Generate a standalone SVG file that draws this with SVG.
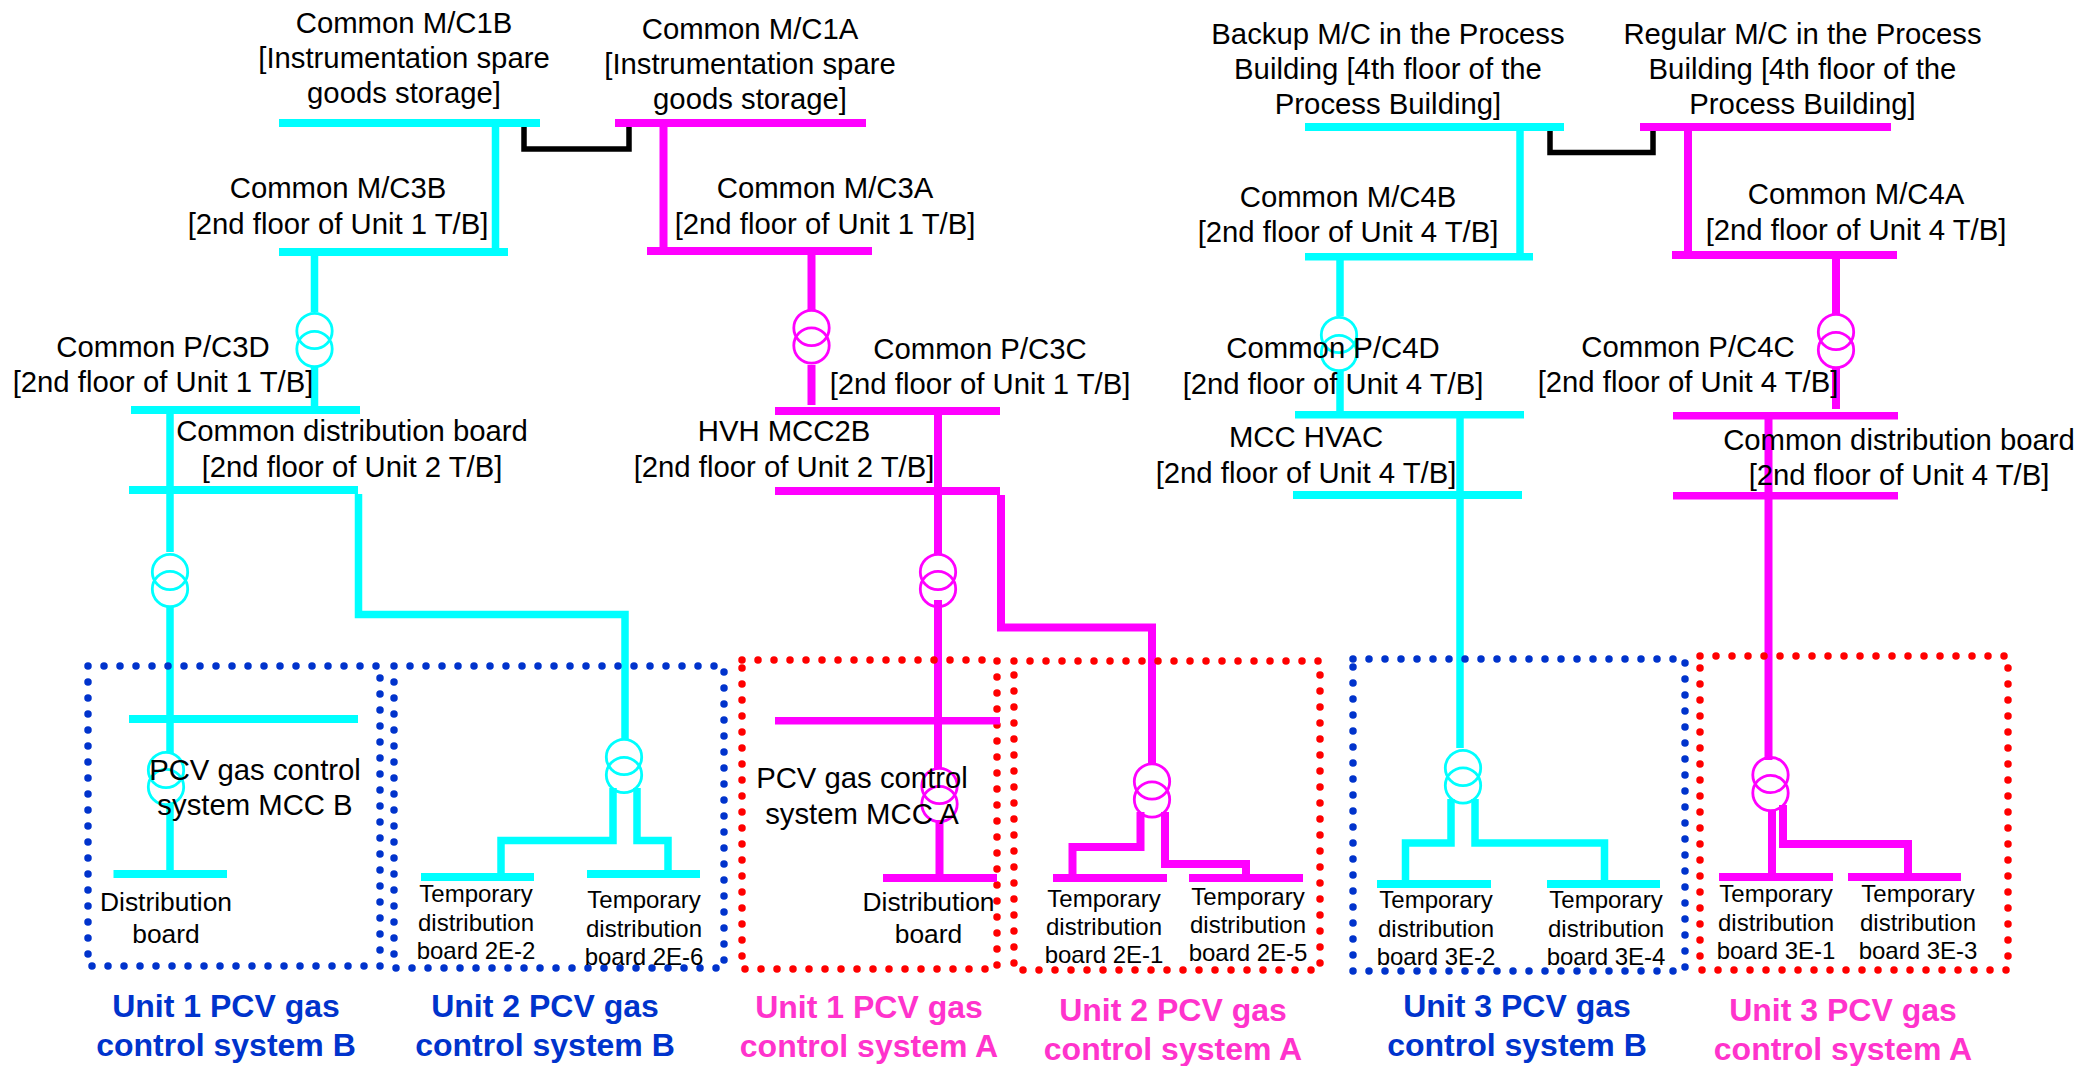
<svg xmlns="http://www.w3.org/2000/svg" width="2099" height="1066" viewBox="0 0 2099 1066">
<style>
text{font-family:"Liberation Sans",Arial,sans-serif;fill:#000;text-anchor:middle}
.l{font-size:29.300px}.m{font-size:26.400px}.s{font-size:24px}
.b{font-size:32px;font-weight:bold}.bb{fill:#0033cc}.bm{fill:#ff33cc}
.c{fill:#00ffff}.p{fill:#ff00ff}
.w{fill:none;stroke-width:7.5}.wc{stroke:#00ffff}.wp{stroke:#ff00ff}.wk{fill:none;stroke:#000;stroke-width:5.500}
.t{fill:none;stroke-width:2.800}
.box{fill:none;stroke-width:7.500;stroke-linecap:round;stroke-dasharray:0 16}
</style>
<rect width="2099" height="1066" fill="#fff"/>
<g id="connectors">
<path class="wk" d="M524 127V149H629V127"/>
<path class="wk" d="M1550 131V152.500H1653V131"/>
<g class="w wc">
<path d="M495.500 127V248"/>
<path d="M314.500 256V312M314.500 367V407"/>
<path d="M170 414V552M170 607V753M170 805V870"/>
<path d="M358.500 494V614.500H625V740"/>
<path d="M613 788V840.500H501V881"/>
<path d="M637 788V840.500H668V878"/>
<path d="M1520 131V253"/>
<path d="M1340 260V316M1340 371V411"/>
<path d="M1460 418V748"/>
<path d="M1451 799V843H1405.500V880"/>
<path d="M1475 799V843H1604.500V880"/>
</g>
<g class="w wp" style="stroke-width:8">
<path d="M663.500 127V248"/>
<path d="M811.500 255V311M811.500 365V405"/>
<path d="M938 415V555M938 600V768M939.500 820V874"/>
<path d="M1001 495V627.500H1152V764"/>
<path d="M1140.500 812V847H1072.500V874"/>
<path d="M1165 812V864H1246V874"/>
<path d="M1688 131V252"/>
<path d="M1836 259V314M1836 368V409"/>
<path d="M1768.500 419V760"/>
<path d="M1772 810V873"/>
<path d="M1783 805V844H1908V881"/>
</g>
</g>
<g id="group-boxes">
<rect id="box-u1b" class="box" x="88" y="666" width="292" height="300" stroke="#0033cc"/>
<rect id="box-u2b" class="box" x="394" y="666" width="330" height="302" stroke="#0033cc"/>
<rect id="box-u1a" class="box" x="742" y="660" width="255" height="309" stroke="#ff0000"/>
<rect id="box-u2a" class="box" x="1014" y="661" width="306" height="309" stroke="#ff0000"/>
<rect id="box-u3b" class="box" x="1353" y="659" width="332" height="312" stroke="#0033cc"/>
<rect id="box-u3a" class="box" x="1700" y="656" width="308" height="314" stroke="#ff0000"/>
</g>
<g id="transformers">
<g id="tr-c3d" class="t wc"><circle cx="314.500" cy="331" r="17.700"/><circle cx="314.500" cy="349" r="17.700"/></g>
<g id="tr-c3c" class="t wp"><circle cx="811.500" cy="328" r="17.700"/><circle cx="811.500" cy="345.500" r="17.700"/></g>
<g id="tr-c4d" class="t wc"><circle cx="1339" cy="335" r="17.700"/><circle cx="1339" cy="353" r="17.700"/></g>
<g id="tr-c4c" class="t wp"><circle cx="1836" cy="332" r="17.700"/><circle cx="1836" cy="350" r="17.700"/></g>
<g id="tr-u1b-a" class="t wc"><circle cx="170" cy="572" r="17.700"/><circle cx="170" cy="589" r="17.700"/></g>
<g id="tr-u1b-b" class="t wc"><circle cx="166" cy="770" r="17.700"/><circle cx="166" cy="787" r="17.700"/></g>
<g id="tr-u2b" class="t wc"><circle cx="624" cy="757" r="17.700"/><circle cx="624" cy="775" r="17.700"/></g>
<g id="tr-u1a-a" class="t wp"><circle cx="938" cy="572" r="17.700"/><circle cx="938" cy="589" r="17.700"/></g>
<g id="tr-u1a-b" class="t wp"><circle cx="939.500" cy="786" r="17.700"/><circle cx="939.500" cy="804" r="17.700"/></g>
<g id="tr-u2a" class="t wp"><circle cx="1152" cy="781.500" r="17.700"/><circle cx="1152" cy="799.500" r="17.700"/></g>
<g id="tr-u3b" class="t wc"><circle cx="1463" cy="768" r="17.700"/><circle cx="1463" cy="785.500" r="17.700"/></g>
<g id="tr-u3a" class="t wp"><circle cx="1770.500" cy="775" r="17.700"/><circle cx="1770.500" cy="793" r="17.700"/></g>
</g>
<g id="mc1b"><rect class="c" x="279" y="119" width="261" height="8"/><text class="l"><tspan x="404" y="33">Common M/C1B</tspan><tspan x="404" y="68">[Instrumentation spare</tspan><tspan x="404" y="103">goods storage]</tspan></text></g>
<g id="mc1a"><rect class="p" x="615" y="119" width="251" height="8"/><text class="l"><tspan x="750" y="38.500">Common M/C1A</tspan><tspan x="750" y="74">[Instrumentation spare</tspan><tspan x="750" y="109">goods storage]</tspan></text></g>
<g id="mc3b"><rect class="c" x="279" y="248" width="229" height="8"/><text class="l"><tspan x="338" y="198">Common M/C3B</tspan><tspan x="338" y="233.500">[2nd floor of Unit 1 T/B]</tspan></text></g>
<g id="mc3a"><rect class="p" x="647" y="247" width="225" height="8"/><text class="l"><tspan x="825" y="198">Common M/C3A</tspan><tspan x="825" y="233.500">[2nd floor of Unit 1 T/B]</tspan></text></g>
<g id="pc3d"><rect class="c" x="131" y="406" width="229" height="8"/><text class="l"><tspan x="163" y="357">Common P/C3D</tspan><tspan x="163" y="392">[2nd floor of Unit 1 T/B]</tspan></text></g>
<g id="pc3c"><rect class="p" x="775" y="407" width="225" height="8"/><text class="l"><tspan x="980" y="359">Common P/C3C</tspan><tspan x="980" y="394">[2nd floor of Unit 1 T/B]</tspan></text></g>
<g id="cdb-u2"><rect class="c" x="129" y="486" width="229" height="8"/><text class="l"><tspan x="352" y="441">Common distribution board</tspan><tspan x="352" y="477">[2nd floor of Unit 2 T/B]</tspan></text></g>
<g id="hvh-mcc2b"><rect class="p" x="775" y="487" width="225" height="8"/><text class="l"><tspan x="784" y="441">HVH MCC2B</tspan><tspan x="784" y="477">[2nd floor of Unit 2 T/B]</tspan></text></g>
<g id="backup-mc"><rect class="c" x="1305" y="123" width="259" height="8"/><text class="l"><tspan x="1388" y="44">Backup M/C in the Process</tspan><tspan x="1388" y="79">Building [4th floor of the</tspan><tspan x="1388" y="114">Process Building]</tspan></text></g>
<g id="regular-mc"><rect class="p" x="1640" y="123" width="251" height="8"/><text class="l"><tspan x="1802.500" y="44">Regular M/C in the Process</tspan><tspan x="1802.500" y="79">Building [4th floor of the</tspan><tspan x="1802.500" y="114">Process Building]</tspan></text></g>
<g id="mc4b"><rect class="c" x="1305" y="253" width="228" height="7.500"/><text class="l"><tspan x="1348" y="207">Common M/C4B</tspan><tspan x="1348" y="242">[2nd floor of Unit 4 T/B]</tspan></text></g>
<g id="mc4a"><rect class="p" x="1672" y="251" width="225" height="8"/><text class="l"><tspan x="1856" y="204">Common M/C4A</tspan><tspan x="1856" y="240">[2nd floor of Unit 4 T/B]</tspan></text></g>
<g id="pc4d"><rect class="c" x="1295" y="411" width="229" height="7.500"/><text class="l"><tspan x="1333" y="358">Common P/C4D</tspan><tspan x="1333" y="394">[2nd floor of Unit 4 T/B]</tspan></text></g>
<g id="pc4c"><rect class="p" x="1673" y="412" width="225" height="7.500"/><text class="l"><tspan x="1688" y="357">Common P/C4C</tspan><tspan x="1688" y="392">[2nd floor of Unit 4 T/B]</tspan></text></g>
<g id="mcc-hvac"><rect class="c" x="1293" y="491" width="229" height="8"/><text class="l"><tspan x="1306" y="447">MCC HVAC</tspan><tspan x="1306" y="483">[2nd floor of Unit 4 T/B]</tspan></text></g>
<g id="cdb-u4"><rect class="p" x="1673" y="492" width="225" height="7.500"/><text class="l"><tspan x="1899" y="450">Common distribution board</tspan><tspan x="1899" y="485">[2nd floor of Unit 4 T/B]</tspan></text></g>
<g id="pcv-mcc-b"><rect class="c" x="129" y="715" width="229" height="8"/><text class="l"><tspan x="255" y="780">PCV gas control</tspan><tspan x="255" y="815">system MCC B</tspan></text></g>
<g id="pcv-mcc-a"><rect class="p" x="775" y="717" width="225" height="7.500"/><text class="l"><tspan x="862" y="788">PCV gas control</tspan><tspan x="862" y="824">system MCC A</tspan></text></g>
<g id="db-b"><rect class="c" x="113.500" y="870" width="113.500" height="8"/><text class="m"><tspan x="166" y="911">Distribution</tspan><tspan x="166" y="943">board</tspan></text></g>
<g id="db-a"><rect class="p" x="883" y="874" width="114" height="8"/><text class="m"><tspan x="928.500" y="911">Distribution</tspan><tspan x="928.500" y="943">board</tspan></text></g>
<g id="t2e2"><rect class="c" x="421" y="873" width="113" height="8"/><text class="s"><tspan x="476" y="902">Temporary</tspan><tspan x="476" y="931">distribution</tspan><tspan x="476" y="959">board 2E-2</tspan></text></g>
<g id="t2e6"><rect class="c" x="587" y="870" width="113" height="8"/><text class="s"><tspan x="644" y="908">Temporary</tspan><tspan x="644" y="937">distribution</tspan><tspan x="644" y="965">board 2E-6</tspan></text></g>
<g id="t2e1"><rect class="p" x="1053" y="874" width="114" height="8"/><text class="s"><tspan x="1104" y="907">Temporary</tspan><tspan x="1104" y="935">distribution</tspan><tspan x="1104" y="963">board 2E-1</tspan></text></g>
<g id="t2e5"><rect class="p" x="1189" y="874" width="114" height="8"/><text class="s"><tspan x="1248" y="905">Temporary</tspan><tspan x="1248" y="933">distribution</tspan><tspan x="1248" y="961">board 2E-5</tspan></text></g>
<g id="t3e2"><rect class="c" x="1377" y="880" width="114" height="8"/><text class="s"><tspan x="1436" y="908">Temporary</tspan><tspan x="1436" y="937">distribution</tspan><tspan x="1436" y="965">board 3E-2</tspan></text></g>
<g id="t3e4"><rect class="c" x="1547" y="880" width="113" height="8"/><text class="s"><tspan x="1606" y="908">Temporary</tspan><tspan x="1606" y="937">distribution</tspan><tspan x="1606" y="965">board 3E-4</tspan></text></g>
<g id="t3e1"><rect class="p" x="1719" y="873" width="114" height="8"/><text class="s"><tspan x="1776" y="902">Temporary</tspan><tspan x="1776" y="931">distribution</tspan><tspan x="1776" y="959">board 3E-1</tspan></text></g>
<g id="t3e3"><rect class="p" x="1848" y="873" width="113" height="8"/><text class="s"><tspan x="1918" y="902">Temporary</tspan><tspan x="1918" y="931">distribution</tspan><tspan x="1918" y="959">board 3E-3</tspan></text></g>
<g id="captions">
<text class="b bb"><tspan x="226" y="1017">Unit 1 PCV gas</tspan><tspan x="226" y="1056">control system B</tspan></text>
<text class="b bb"><tspan x="545" y="1017">Unit 2 PCV gas</tspan><tspan x="545" y="1056">control system B</tspan></text>
<text class="b bm"><tspan x="869" y="1018">Unit 1 PCV gas</tspan><tspan x="869" y="1057">control system A</tspan></text>
<text class="b bm"><tspan x="1173" y="1021">Unit 2 PCV gas</tspan><tspan x="1173" y="1060">control system A</tspan></text>
<text class="b bb"><tspan x="1517" y="1017">Unit 3 PCV gas</tspan><tspan x="1517" y="1056">control system B</tspan></text>
<text class="b bm"><tspan x="1843" y="1021">Unit 3 PCV gas</tspan><tspan x="1843" y="1060">control system A</tspan></text>
</g>
</svg>
